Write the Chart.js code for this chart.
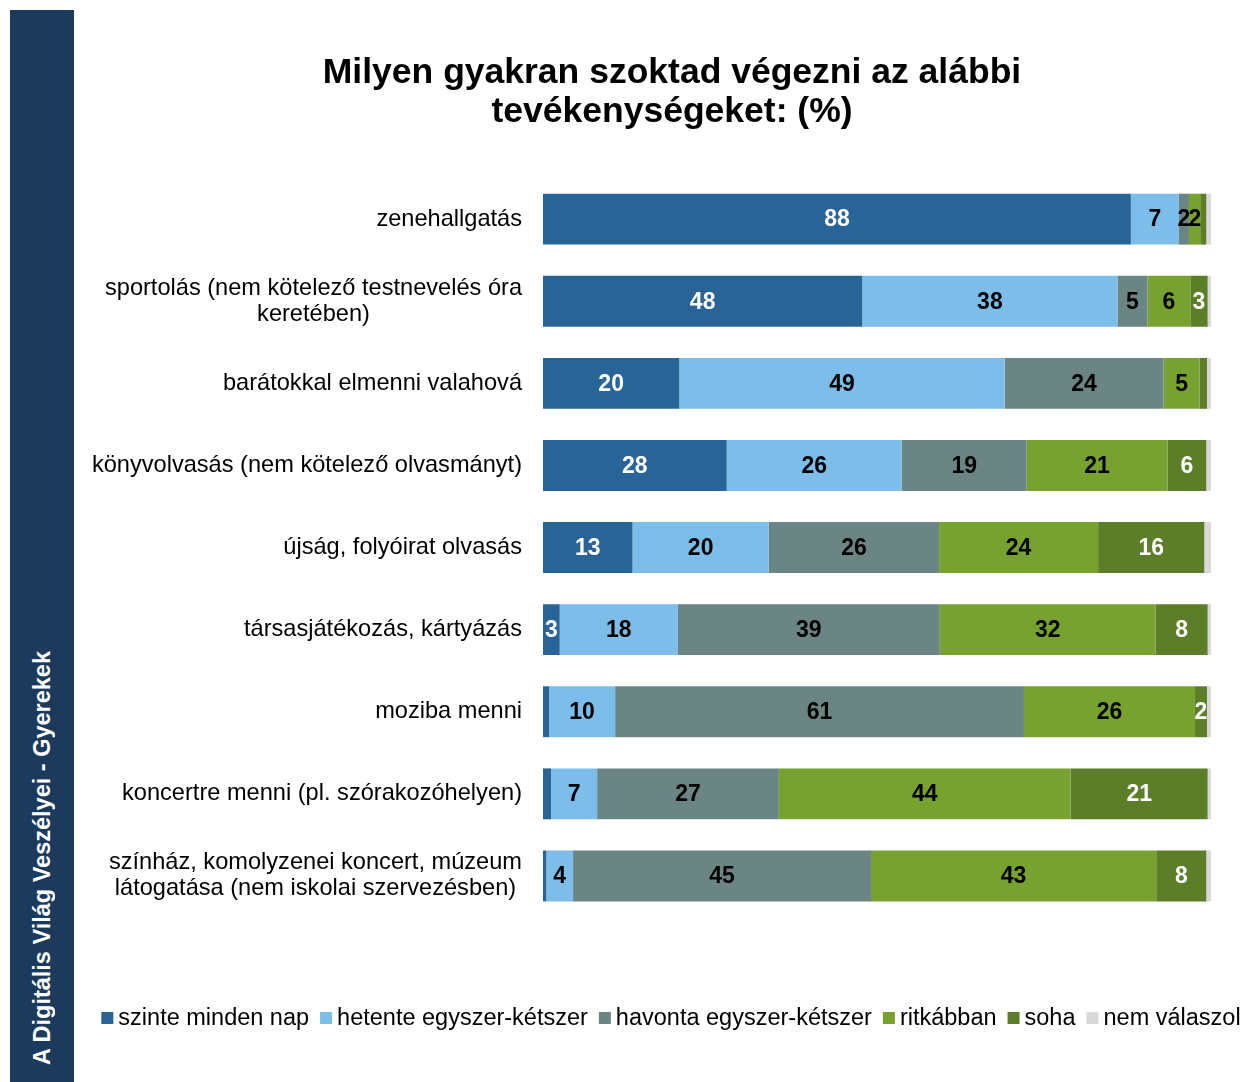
<!DOCTYPE html>
<html>
<head>
<meta charset="utf-8">
<script src="https://cdn.jsdelivr.net/npm/chart.js@4/dist/chart.umd.min.js"></script>
<style>
  body { margin: 0; background: #fff; font-family: "Liberation Sans", Arial, sans-serif; }
  #wrap { position: relative; width: 1246px; height: 1082px; overflow: hidden; }
  #chartBox { position: absolute; left: 0; top: 0; width: 1246px; height: 1082px; }
  #side { position: absolute; left: 10px; top: 10px; width: 64px; height: 1072px; background: #1b3a5c; z-index: 2; }
  #side span {
    position: absolute; bottom: 17px; left: 20px;
    writing-mode: vertical-rl; transform: rotate(180deg);
    color: #fff; font-weight: bold; font-size: 23.5px; line-height: 24px; white-space: nowrap;
  }
</style>
</head>
<body>
<div id="wrap">
  <div id="chartBox"><canvas id="chart"></canvas></div>
  <div id="side"><span>A Digitális Világ Veszélyei - Gyerekek</span></div>
</div>
<script>
// ----------------- Data -----------------
const categories = [
  'zenehallgatás',
  ['sportolás (nem kötelező testnevelés óra', 'keretében)'],
  'barátokkal elmenni valahová',
  'könyvolvasás (nem kötelező olvasmányt)',
  'újság, folyóirat olvasás',
  'társasjátékozás, kártyázás',
  'moziba menni',
  'koncertre menni (pl. szórakozóhelyen)',
  ['színház, komolyzenei koncert, múzeum', 'látogatása (nem iskolai szervezésben)']
];
const seriesNames = ['szinte minden nap', 'hetente egyszer-kétszer', 'havonta egyszer-kétszer', 'ritkábban', 'soha', 'nem válaszol'];

const szinteMindenNap = [88, 47.8, 20.4, 27.5, 13.4, 2.5, 0.9, 1.2, 0.5];
const hetente        = [7.2, 38.2, 48.7, 26.2, 20.4, 17.7, 9.9, 6.9, 4.0];
const havonta        = [1.5, 4.5, 23.8, 18.7, 25.5, 39.2, 61.2, 27.2, 44.6];
const ritkabban      = [1.8, 6.4, 5.4, 21.1, 23.8, 32.3, 25.6, 43.7, 42.7];
const soha           = [0.8, 2.6, 1.1, 5.8, 15.9, 7.8, 1.8, 20.5, 7.5];
const nemValaszol    = [0.7, 0.5, 0.6, 0.7, 1.0, 0.5, 0.6, 0.5, 0.7];

const titleLines = ['Milyen gyakran szoktad végezni az alábbi', 'tevékenységeket: (%)'];

// ----------------- Styles -----------------
const FONT = '"Liberation Sans", Arial, sans-serif';
const colors = ['#286496', '#7cbdea', '#6a8584', '#77a230', '#5c7e28', '#d9d9d9'];
const labelColors = ['#fff', '#000', '#000', '#000', '#fff', null];
const allSeries = [szinteMindenNap, hetente, havonta, ritkabban, soha, nemValaszol];

// category labels on the left: block right-aligned, lines centered within block
const catLabels = {
  id: 'catLabels',
  afterDraw(chart) {
    const ctx = chart.ctx;
    const y = chart.scales.y;
    ctx.save();
    ctx.font = '23.6px ' + FONT;
    ctx.fillStyle = '#000';
    ctx.textAlign = 'center';
    ctx.textBaseline = 'middle';
    categories.forEach((lab, i) => {
      const lines = Array.isArray(lab) ? lab : [lab];
      const w = Math.max(...lines.map(l => ctx.measureText(l).width));
      const cx = 522 - w / 2;
      const cy = y.getPixelForValue(i);
      const lh = 26;
      lines.forEach((l, k) => {
        ctx.fillText(l, cx, cy + (k - (lines.length - 1) / 2) * lh);
      });
    });
    ctx.restore();
  }
};

// values inside the bar segments
const valueLabels = {
  id: 'valueLabels',
  afterDatasetsDraw(chart) {
    const ctx = chart.ctx;
    ctx.save();
    ctx.font = 'bold 23px ' + FONT;
    ctx.textAlign = 'center';
    ctx.textBaseline = 'middle';
    chart.data.datasets.forEach((ds, di) => {
      if (!labelColors[di]) return;
      const meta = chart.getDatasetMeta(di);
      meta.data.forEach((bar, i) => {
        const v = ds.data[i];
        if (v < 1.5) return;
        const p = bar.getProps(['x', 'y', 'base'], true);
        ctx.fillStyle = labelColors[di];
        ctx.fillText(Math.round(v), (p.x + p.base) / 2, p.y + 1);
      });
    });
    ctx.restore();
  }
};

// single-row legend at the bottom
const legendRow = {
  id: 'legendRow',
  afterDraw(chart) {
    const ctx = chart.ctx;
    ctx.save();
    ctx.font = '23.5px ' + FONT;
    ctx.textBaseline = 'middle';
    ctx.textAlign = 'left';
    const items = chart.data.datasets.map(ds => ({ text: ds.label, color: ds.backgroundColor, w: ctx.measureText(ds.label).width }));
    const box = 12, gap = 5, sep = 11;
    const total = items.reduce((s, it) => s + box + gap + it.w, 0) + sep * (items.length - 1);
    let x = 671 - total / 2;
    const y = 1018;
    items.forEach(it => {
      ctx.fillStyle = it.color;
      ctx.fillRect(x, y - 6, box, box);
      ctx.fillStyle = '#000';
      ctx.fillText(it.text, x + box + gap, y + 1);
      x += box + gap + it.w + sep;
    });
    ctx.restore();
  }
};

new Chart(document.getElementById('chart'), {
  type: 'bar',
  data: {
    labels: categories,
    datasets: allSeries.map((d, i) => ({
      label: seriesNames[i],
      data: d,
      backgroundColor: colors[i],
      borderWidth: 0,
      categoryPercentage: 0.62,
      barPercentage: 1
    }))
  },
  options: {
    indexAxis: 'y',
    responsive: true,
    maintainAspectRatio: false,
    animation: false,
    layout: { padding: { top: 54, left: 133, right: 35, bottom: 165 } },
    scales: {
      x: { stacked: true, min: 0, max: 100, display: false },
      y: {
        stacked: true,
        grid: { display: false },
        border: { display: false },
        ticks: { display: false },
        afterFit: s => { s.width = 410; }
      }
    },
    plugins: {
      tooltip: { enabled: false },
      legend: { display: false },
      title: {
        display: true,
        text: titleLines,
        color: '#000',
        font: { family: FONT, size: 35.5, weight: 'bold', lineHeight: 1.1 },
        padding: { top: 0, bottom: 46 }
      }
    }
  },
  plugins: [catLabels, valueLabels, legendRow]
});
</script>
</body>
</html>
